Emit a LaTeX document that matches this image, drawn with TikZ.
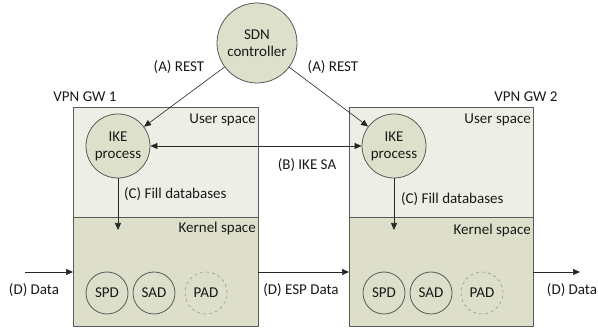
\documentclass[tikz,border=0pt]{standalone}
\usepackage{fontspec}
\setmainfont{Carlito}
\usetikzlibrary{arrows.meta}
\definecolor{userfill}{HTML}{EDEFE6}
\definecolor{kernfill}{HTML}{DDDFCA}
\definecolor{nodefill}{HTML}{DDE0CB}
\definecolor{edgegray}{HTML}{5A5A5A}
\tikzset{
  every node/.style={font=\fontsize{15}{17}\selectfont, text=black!90},
  proc/.style={circle, draw=edgegray, fill=nodefill, line width=0.8pt, minimum size=64pt, inner sep=0pt, align=center},
  db/.style={circle, draw=edgegray, line width=0.8pt, minimum size=42pt, inner sep=0pt},
  dbdash/.style={circle, draw=black!40, dashed, line width=0.6pt, minimum size=42pt, inner sep=0pt},
  lbl/.style={inner sep=1pt},
  arr/.style={-{Triangle[length=7pt,width=6pt]}, line width=0.6pt, draw=black!85},
  darr/.style={{Triangle[length=7pt,width=6pt]}-{Triangle[length=7pt,width=6pt]}, line width=0.6pt, draw=black!85},
  area/.style={draw=edgegray, line width=1pt}
}
\begin{document}
\begin{tikzpicture}[x=1pt,y=-1pt]
\useasboundingbox (0,0) rectangle (598,331);

% gateway boxes: user space above, kernel space below
\foreach \xl/\xr in {73/258, 349/533}{
  \fill[userfill] (\xl,108) rectangle (\xr,218);
  \fill[kernfill] (\xl,218) rectangle (\xr,327);
  \draw[area] (\xl,108) rectangle (\xr,327);
  \draw[area] (\xl,218) -- (\xr,218);
}

% SDN controller
\node[proc, minimum size=80pt] (sdn) at (257,43) {SDN\\controller};

% IKE processes
\node[proc] (ike1) at (118,146) {IKE\\process};
\node[proc] (ike2) at (394,146) {IKE\\process};

% gateway titles and area labels
\node[lbl] (gw1) at (85,97) {VPN GW 1};
\node[lbl] (gw2) at (526,97) {VPN GW 2};
\node[lbl, anchor=east] (us1) at (257,120) {User space};
\node[lbl, anchor=east] (us2) at (532,120) {User space};
\node[lbl, anchor=east] (ks1) at (257,229) {Kernel space};
\node[lbl, anchor=east] (ks2) at (532,231) {Kernel space};

% databases
\node[db] (spd1) at (107,293) {SPD};
\node[db] (sad1) at (154,293) {SAD};
\node[dbdash] (pad1) at (206,293) {PAD};
\node[db] (spd2) at (384,293) {SPD};
\node[db] (sad2) at (431,293) {SAD};
\node[dbdash] (pad2) at (482,293) {PAD};

% (A) REST connections
\draw[arr] (sdn) -- (ike1);
\draw[arr] (sdn) -- (ike2);
\node[lbl] (restl) at (179,67) {(A) REST};
\node[lbl] (restr) at (333,67) {(A) REST};

% (B) IKE SA
\draw[darr] (ike1) -- (ike2);
\node[lbl] (ikesa) at (307,165) {(B) IKE SA};

% (C) fill databases
\coordinate (c1) at (118,230);
\coordinate (c2) at (394,230);
\draw[arr] (ike1) -- (c1);
\draw[arr] (ike2) -- (c2);
\node[lbl, anchor=west] (fill1) at (123,194) {(C) Fill databases};
\node[lbl, anchor=west] (fill2) at (400,199) {(C) Fill databases};

% (D) data path
\coordinate (din) at (25,272);
\coordinate (gw1in) at (73,272);
\coordinate (gw1out) at (258,272);
\coordinate (gw2in) at (349,272);
\coordinate (gw2out) at (533,272);
\coordinate (dout) at (580,272);
\draw[arr] (din) -- (gw1in);
\draw[arr] (gw1out) -- (gw2in);
\draw[arr] (gw2out) -- (dout);
\node[lbl] (datain) at (34,290) {(D) Data};
\node[lbl] (esp) at (301,290) {(D) ESP Data};
\node[lbl] (dataout) at (572,290) {(D) Data};
\end{tikzpicture}
\end{document}
